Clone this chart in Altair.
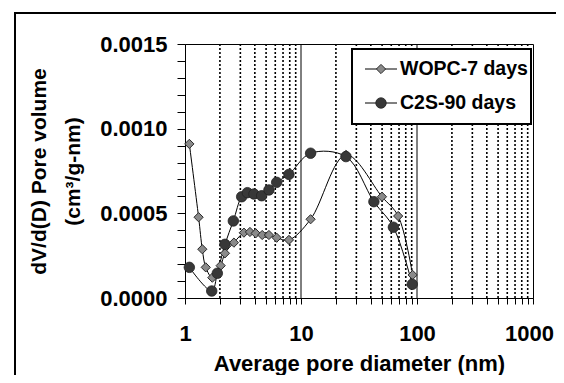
import altair as alt
import pandas as pd

# ---- data ----
series_names = ["WOPC-7 days", "C2S-90 days"]

wopc_x = [1.09, 1.31, 1.41, 1.51, 1.72, 2.03, 2.21, 2.64, 3.22, 3.63, 4.07, 4.63,
          5.29, 6.17, 7.87, 12.1, 24.4, 49.9, 68.8, 91.7]
wopc_y = [0.000910, 0.000477, 0.000288, 0.000181, 0.000120, 0.000191, 0.000264,
          0.000327, 0.000386, 0.000390, 0.000382, 0.000372, 0.000372, 0.000356,
          0.000343, 0.000465, 0.000845, 0.000598, 0.000484, 0.000136]

c2s_x = [1.09, 1.70, 1.90, 2.21, 2.61, 3.08, 3.45, 3.93, 4.58, 5.29, 6.17, 7.87,
         12.1, 24.4, 42.5, 62.6, 91.0]
c2s_y = [0.000181, 0.0000413, 0.000146, 0.000317, 0.000455, 0.000598, 0.000622,
         0.000614, 0.000604, 0.000638, 0.000683, 0.000730, 0.000855, 0.000835,
         0.000569, 0.000418, 0.0000811]

x_tick_values = [1, 2, 3, 4, 5, 6, 7, 8, 9, 10, 20, 30, 40, 50, 60, 70, 80, 90,
                 100, 200, 300, 400, 500, 600, 700, 800, 900, 1000]
grid_dotted = [2, 3, 4, 5, 6, 7, 8, 9, 20, 30, 40, 50, 60, 70, 80, 90,
               200, 300, 400, 500, 600, 700, 800, 900]
grid_solid = [10, 100]
y_tick_values = [0.0, 0.0001, 0.0002, 0.0003, 0.0004, 0.0005, 0.0006, 0.0007,
                 0.0008, 0.0009, 0.0010, 0.0011, 0.0012, 0.0013, 0.0014, 0.0015]

x_title = "Average pore diameter (nm)"
y_title = ["dV/d(D) Pore volume", "(cm\u00b3/g-nm)"]

# ---- tables ----
df_w = pd.DataFrame({"d": wopc_x, "v": wopc_y, "s": series_names[0]})
df_c = pd.DataFrame({"d": c2s_x, "v": c2s_y, "s": series_names[1]})
df_gd = pd.DataFrame({"g": grid_dotted})
df_gs = pd.DataFrame({"g": grid_solid})
df_one = pd.DataFrame({"k": [0]})
df_leg = pd.DataFrame({"name": series_names})

FONT = "Liberation Sans"

xscale = alt.Scale(type="log", domain=[1, 1000], nice=False)
yscale = alt.Scale(domain=[0, 0.0015], nice=False, zero=True)

x_axis = alt.Axis(
    values=x_tick_values,
    labelExpr="(datum.value == 1 || datum.value == 10 || datum.value == 100 || datum.value == 1000) ? format(datum.value, 'd') : ''",
    labelOverlap=False,
    labelFlush=False,
    labelOffset={"condition": {"test": "datum.value == 1000", "value": -4}, "value": 0},
    title=x_title,
    titleFontSize=22,
    grid=False,
    tickSize=6,
    labelPadding=19,
    titlePadding=9,
)
y_axis = alt.Axis(
    values=y_tick_values,
    labelExpr="(round(datum.value * 10000) % 5 == 0) ? format(datum.value, '.4f') : ''",
    labelOverlap=False,
    labelFlush=False,
    title=y_title,
    titleFontSize=21,
    titleLineHeight=34,
    grid=False,
    tickSize=8,
    labelPadding=10,
    titlePadding=16,
)

X = alt.X("d:Q", scale=xscale, axis=x_axis)
Y = alt.Y("v:Q", scale=yscale, axis=y_axis)

grid_dot = alt.Chart(df_gd).mark_rule(
    color="black", strokeWidth=1.6, strokeDash=[2, 2]
).encode(x=alt.X("g:Q", scale=xscale))
grid_sol = alt.Chart(df_gs).mark_rule(color="black", strokeWidth=1).encode(
    x=alt.X("g:Q", scale=xscale)
)

line_w = alt.Chart(df_w).mark_line(
    interpolate="catmull-rom", color="black", strokeWidth=1
).encode(x=X, y=Y)
line_c = alt.Chart(df_c).mark_line(
    interpolate="catmull-rom", color="black", strokeWidth=1
).encode(x=X, y=Y)

pts_w = alt.Chart(df_w).mark_point(
    shape="diamond", filled=True, size=85, fill="#8a8a8a", stroke="#2a2a2a",
    strokeWidth=1, opacity=1
).encode(x=X, y=Y)
pts_c = alt.Chart(df_c).mark_point(
    shape="circle", filled=True, size=110, fill="#383838", stroke="#222222",
    strokeWidth=0.8, opacity=1
).encode(x=X, y=Y)

# legend box
leg_box = alt.Chart(df_one).mark_rect(
    fill="white", stroke="black", strokeWidth=2
).encode(x=alt.value(167), x2=alt.value(346), y=alt.value(5), y2=alt.value(80))

leg_line1 = alt.Chart(df_one).mark_rule(color="black", strokeWidth=1).encode(
    x=alt.value(180), x2=alt.value(212), y=alt.value(25)
)
leg_line2 = alt.Chart(df_one).mark_rule(color="black", strokeWidth=1).encode(
    x=alt.value(180), x2=alt.value(212), y=alt.value(59)
)
leg_pt1 = alt.Chart(df_one).mark_point(
    shape="diamond", filled=True, size=85, fill="#8a8a8a", stroke="#2a2a2a",
    strokeWidth=1, opacity=1
).encode(x=alt.value(196), y=alt.value(25))
leg_pt2 = alt.Chart(df_one).mark_point(
    shape="circle", filled=True, size=110, fill="#383838", stroke="#222222",
    strokeWidth=0.8, opacity=1
).encode(x=alt.value(196), y=alt.value(59))

leg_txt1 = alt.Chart(df_leg).transform_filter(
    alt.datum.name == series_names[0]
).mark_text(
    align="left", baseline="middle", font=FONT, fontSize=19.5, fontWeight="bold",
    color="black"
).encode(x=alt.value(215), y=alt.value(25), text="name:N")
leg_txt2 = alt.Chart(df_leg).transform_filter(
    alt.datum.name == series_names[1]
).mark_text(
    align="left", baseline="middle", font=FONT, fontSize=19.5, fontWeight="bold",
    color="black"
).encode(x=alt.value(215), y=alt.value(59), text="name:N")

# outer frame around the whole picture (top and left edges; the rest runs off the page)
frame_top = alt.Chart(df_one).mark_rule(color="black", strokeWidth=2).encode(
    x=alt.value(-171), x2=alt.value(380), y=alt.value(-31)
)
frame_left = alt.Chart(df_one).mark_rule(color="black", strokeWidth=2).encode(
    x=alt.value(-170), y=alt.value(-32), y2=alt.value(340)
)

chart = alt.layer(
    frame_top, frame_left, grid_dot, grid_sol, line_w, line_c, pts_w, pts_c,
    leg_box, leg_line1, leg_line2, leg_pt1, leg_pt2, leg_txt1, leg_txt2
).properties(
    width=348,
    height=254,
    autosize=alt.AutoSizeParams(type="none"),
    padding={"left": 177, "top": 36, "right": 23, "bottom": 77},
    background="white",
).configure_view(
    stroke="black", strokeWidth=1
).configure_axis(
    domainColor="black", domainWidth=1, tickColor="black", tickWidth=1,
    labelFont=FONT, labelFontSize=22, labelFontWeight="bold", labelColor="black",
    titleFont=FONT, titleFontWeight="bold", titleColor="black",
)

chart.save("out.html", embed_options={"renderer": "svg", "actions": False})
